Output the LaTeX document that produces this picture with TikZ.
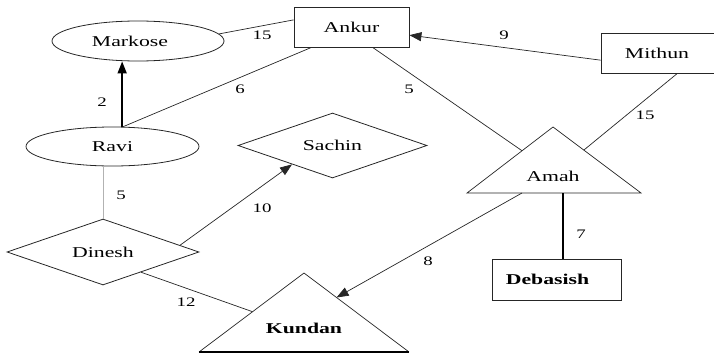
\documentclass[tikz,border=0pt]{standalone}
\usepackage{fontspec}
\setmainfont{Liberation Serif}[FakeStretch=1.45]
\usetikzlibrary{shapes.geometric,arrows.meta,calc}

\begin{document}
\begin{tikzpicture}[x=1pt,y=-1pt,
  ent/.style={draw=black!85, line width=0.8pt, inner sep=0pt,
              font=\fontsize{15}{18}\selectfont},
  box/.style={ent, rectangle},
  oval/.style={ent, ellipse},
  rhomb/.style={ent, diamond, shape aspect=2.9},
  word/.style={inner sep=0pt, font=\fontsize{15}{18}\selectfont},
  tag/.style={inner sep=0pt, font=\fontsize{13}{15}\selectfont},
  link/.style={draw=black!85, line width=0.7pt},
  heavy/.style={draw=black, line width=1.5pt},
  arr/.style={-{Triangle[length=12pt,width=9pt]}},
]
\useasboundingbox (0,0) rectangle (714,356);

% rectangles, ellipses and diamonds
\node[oval, minimum width=172pt, minimum height=40pt] (markose) at (138,41)
  {Markose\hspace*{16pt}};
\node[box, minimum width=115pt, minimum height=40pt] (ankur) at (351.5,27) {Ankur};
\node[box, minimum width=116pt, minimum height=40pt] (mithun) at (659,53) {Mithun\hspace*{4pt}};
\node[oval, minimum width=173pt, minimum height=39pt] (ravi) at (112.5,146.5) {Ravi};
\node[rhomb, minimum width=189pt, minimum height=65pt] (sachin) at (332.5,145.5) {Sachin};
\node[rhomb, minimum width=192pt, minimum height=66pt] (dinesh) at (103,252) {Dinesh};
\node[box, line width=1pt, minimum width=129pt, minimum height=41pt] (debasish) at (556.5,279.5)
  {\textbf{Debasish}\hspace*{18pt}};

% triangles
\coordinate (amah-t) at (553,127);
\coordinate (amah-l) at (467,193);
\coordinate (amah-r) at (641,193);
\draw[link] (amah-t) -- (amah-r) -- (amah-l) -- cycle;
\node[word] (amah) at (553,176) {Amah};

\coordinate (kundan-t) at (304,273);
\coordinate (kundan-l) at (199,352);
\coordinate (kundan-r) at (409,352);
\draw[link] (kundan-l) -- (kundan-t) -- (kundan-r);
\draw[heavy] (kundan-l) -- (kundan-r);
\node[word] (kundan) at (304,328) {\textbf{Kundan}};

% connectors
\draw[link] (markose.5) -- (ankur.173);
\draw[link] (ankur.207.5) -- (ravi.62);
\draw[heavy, arr] (ravi.64) -- (ravi.64 |- markose.south);
\draw[link, arr] (mithun.187) -- (ankur.-8);
\draw[link] (ankur.-44) -- ($(amah-t)!0.36!(amah-l)$);
\draw[link] (mithun.-48) -- ($(amah-t)!0.35!(amah-r)$);
\draw[draw=black!30, line width=1pt] (dinesh.north) -- (dinesh.north |- ravi.south);
\draw[link, arr] (dinesh.5) -- (sachin.205);
\draw[link] (dinesh.-28) -- ($(kundan-t)!0.49!(kundan-l)$);
\draw[link, arr] ($(amah-l)!0.316!(amah-r)$) -- ($(kundan-t)!0.31!(kundan-r)$);
\draw[heavy, line width=1.3pt] ($(amah-l)!0.552!(amah-r)$) -- (debasish.north -| {$(amah-l)!0.552!(amah-r)$});

% weights
\node[tag] (w1) at (262,35) {15};
\node[tag] (w2) at (240,89) {6};
\node[tag] (w3) at (102,102) {2};
\node[tag] (w4) at (504,35) {9};
\node[tag] (w5) at (409,89) {5};
\node[tag] (w6) at (645,115) {15};
\node[tag] (w7) at (121,195) {5};
\node[tag] (w8) at (262,208) {10};
\node[tag] (w9) at (186,302) {12};
\node[tag] (w10) at (428,261) {8};
\node[tag] (w11) at (581,234) {7};
\end{tikzpicture}
\end{document}
